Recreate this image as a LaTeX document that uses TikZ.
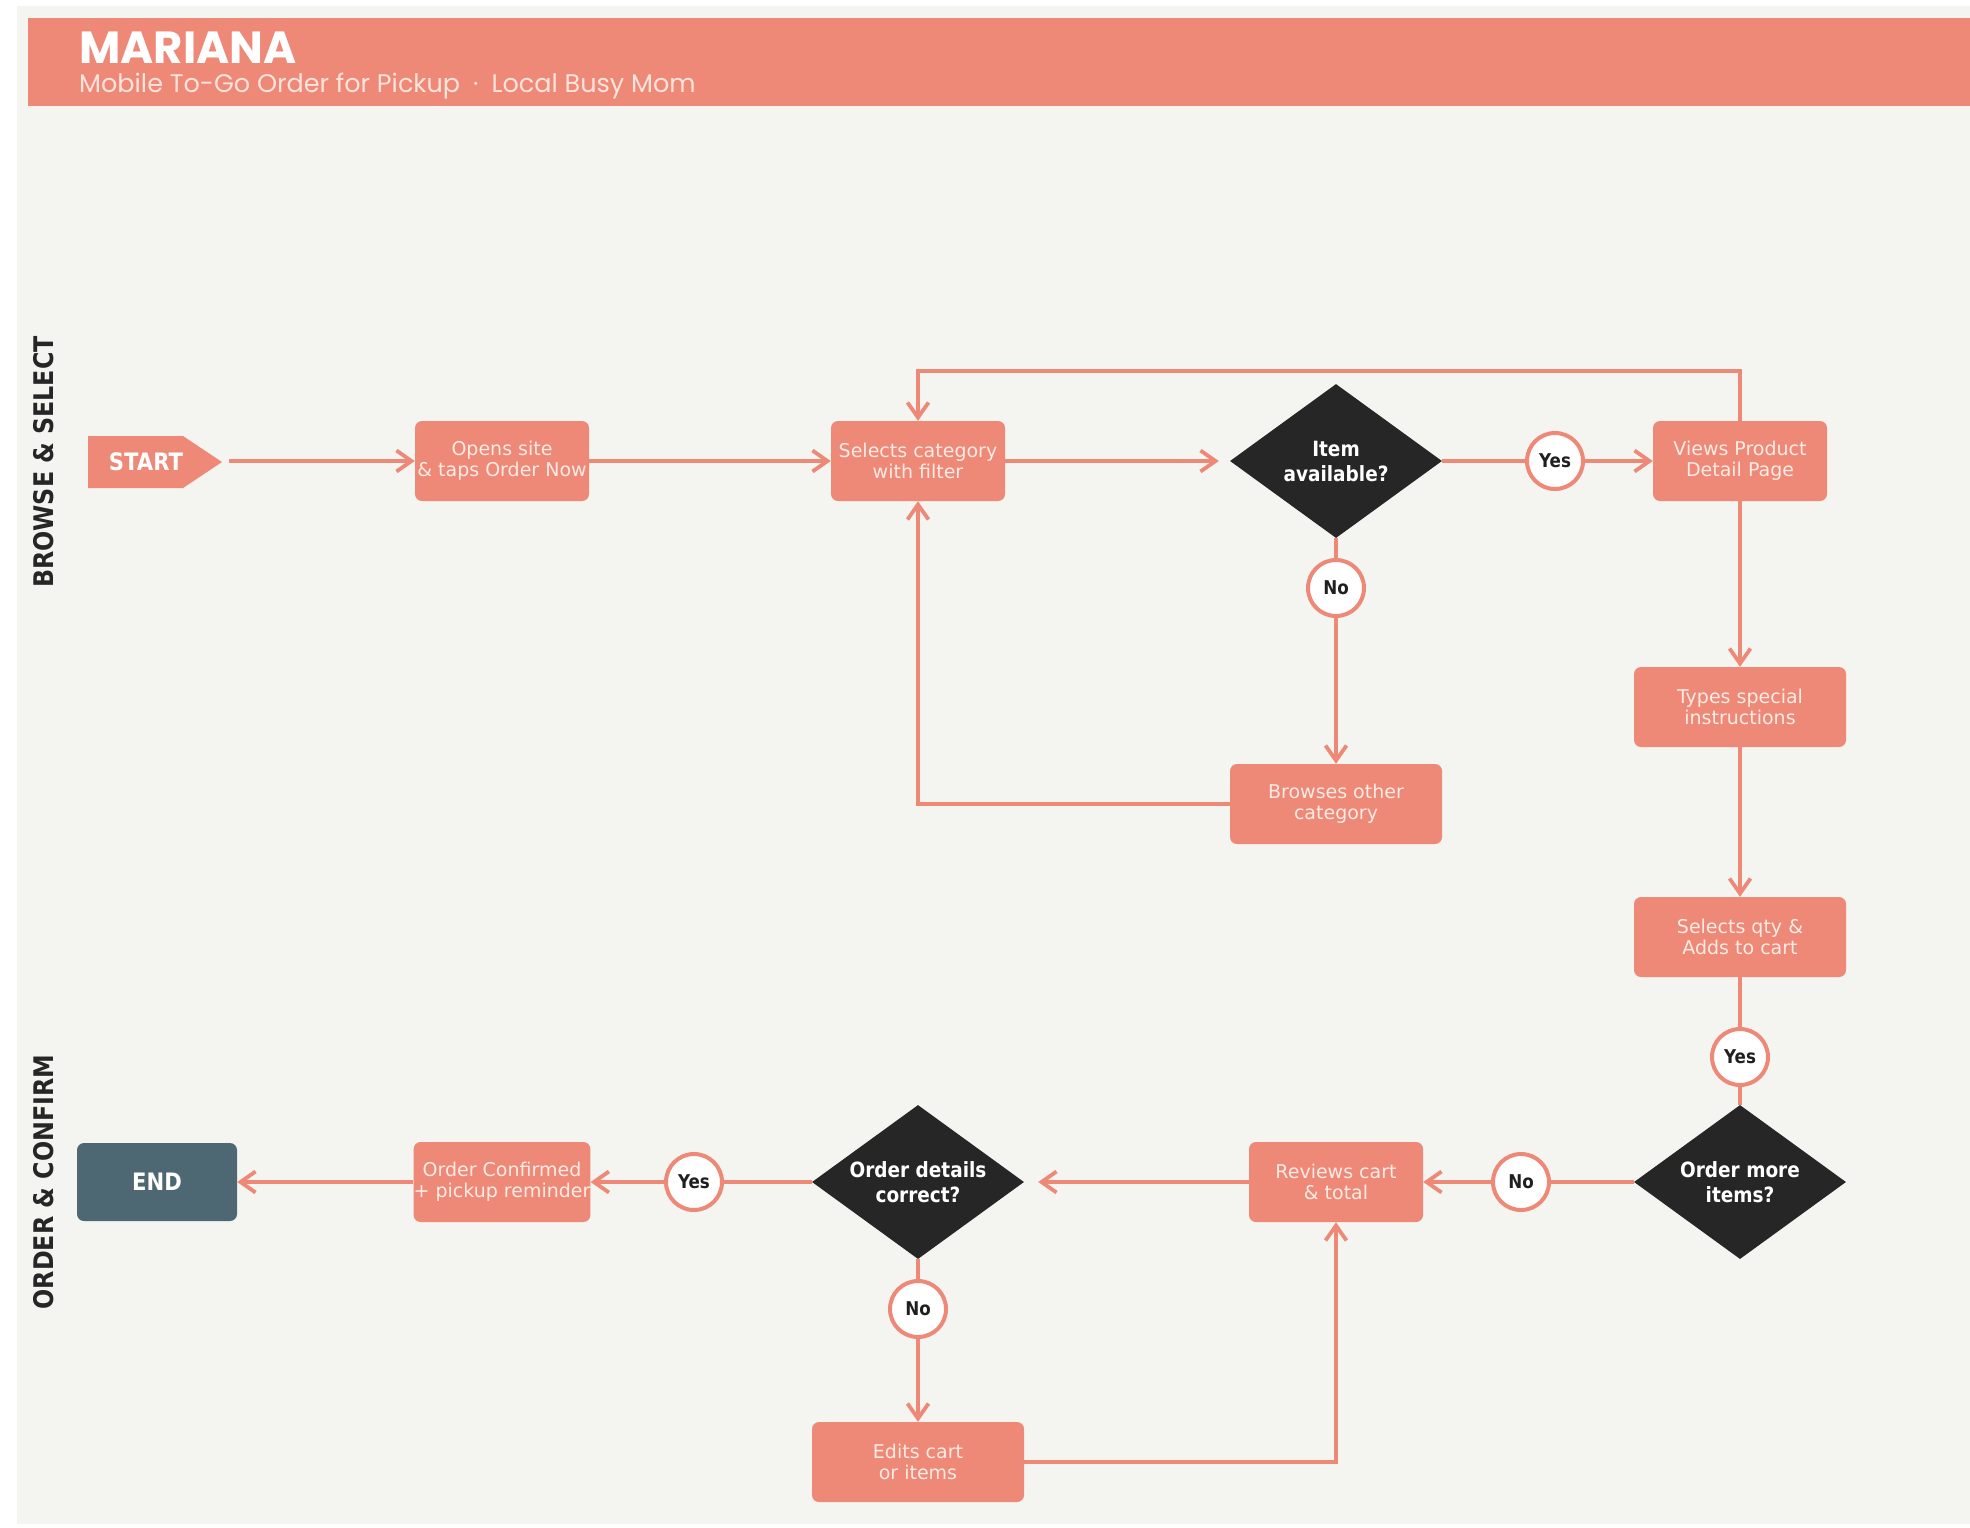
\documentclass[tikz,border=0pt]{standalone}
\usepackage{fontspec}
\usetikzlibrary{shapes.geometric,arrows.meta}
\newfontfamily\dv{DejaVu Sans}
\newfontfamily\dvc{DejaVu Sans Bold}[FakeStretch=0.88]
\newfontfamily\pop{Poppins}
\definecolor{sal}{HTML}{EE8877}
\definecolor{boxtxt}{HTML}{FDEBE5}
\definecolor{darkd}{HTML}{262626}
\definecolor{panelc}{HTML}{F4F4F0}
\definecolor{endc}{HTML}{4E6873}
\definecolor{subt}{HTML}{FCE4DC}
\begin{document}
\begin{tikzpicture}[x=1pt,y=-1pt,
  box/.style={rectangle, rounded corners=7pt, fill=sal, text=boxtxt, font=\dv\fontsize{19}{21}\selectfont, align=center, inner sep=0pt, minimum width=174pt, minimum height=80pt},
  wbox/.style={box, minimum width=212pt},
  dec/.style={diamond, aspect=1.38, fill=darkd, text=white, font=\dvc\fontsize{21}{25}\selectfont, align=center, inner sep=0pt, minimum width=212pt, minimum height=154pt},
  lab/.style={circle, draw=sal, line width=4pt, fill=white, text=black!88, font=\dvc\fontsize{19}{21}\selectfont, inner sep=0pt, minimum size=56pt},
  lane/.style={rotate=90, text=darkd, font=\dvc\fontsize{27}{30}\selectfont, inner sep=0pt},
  conn/.style={draw=sal, line width=3.8pt},
  arr/.style={conn, -{Straight Barb[length=15pt,width=21pt]}}
]
\useasboundingbox (0,0) rectangle (1970,1527);
\fill[white] (0,0) rectangle (1970,1527);
\fill[panelc] (17,6) rectangle (1970,1524);
\fill[sal] (28,18) rectangle (1970,106);
\node[anchor=base west, inner sep=0pt, text=white, font=\pop\bfseries\fontsize{45}{50}\selectfont] (title) at (79,63) {MARIANA};
\node[anchor=base west, inner sep=0pt, text=subt, font=\pop\fontsize{25.5}{28}\selectfont] (subtitle) at (79,92) {Mobile To-Go Order for Pickup\hspace{13pt}·\hspace{13pt}Local Busy Mom};

% lane labels
\node[lane] (lane1) at (44,462) {BROWSE \& SELECT};
\node[lane] (lane2) at (44,1182) {ORDER \& CONFIRM};

% start shape
\fill[sal] (88,436) -- (183,436) -- (222,462) -- (183,488) -- (88,488) -- cycle;
\node[text=white, font=\dvc\fontsize{24}{26}\selectfont, inner sep=0pt] (start) at (146,462) {START};
\coordinate (starttip) at (229,461);

% nodes
\node[box] (opens) at (502,461) {Opens site\\\& taps Order Now};
\node[box] (selcat) at (918,461) {Selects category\\with filter};
\node[dec] (itemav) at (1336,461) {Item\\available?};
\node[lab] (yes1) at (1555,461) {Yes};
\node[box] (views) at (1740,461) {Views Product\\Detail Page};
\coordinate (loop) at (1740,371);
\node[lab] (no1) at (1336,588) {No};
\node[wbox] (browse) at (1336,804) {Browses other\\category};
\node[wbox] (types) at (1740,707) {Types special\\instructions};
\node[wbox] (qty) at (1740,937) {Selects qty \&\\Adds to cart};
\node[lab] (yes2) at (1740,1057) {Yes};
\node[dec] (more) at (1740,1182) {Order more\\items?};
\node[lab] (no2) at (1521,1182) {No};
\node[box] (review) at (1336,1182) {Reviews cart\\\& total};
\node[dec] (details) at (918,1182) {Order details\\correct?};
\node[lab] (yes3) at (694,1182) {Yes};
\node[box] (confirm) at (502,1182) {Order Confirmed\\+ pickup reminder};
\node[rectangle, rounded corners=7pt, fill=endc, text=white, font=\dvc\fontsize{24}{26}\selectfont, minimum width=160pt, minimum height=78pt, inner sep=0pt] (end) at (157,1182) {END};
\node[lab] (no3) at (918,1309) {No};
\node[wbox] (edits) at (918,1462) {Edits cart\\or items};

% connectors
\draw[arr] (starttip) -- (opens.west);
\draw[arr] (opens.east) -- (selcat.west);
\draw[arr, shorten >=11pt] (selcat.east) -- (itemav.west);
\draw[conn] (itemav.east) -- (yes1.west);
\draw[arr] (yes1.east) -- (views.west);
\draw[arr] (views.north) -- (loop) -| (selcat.north);
\draw[conn] (itemav.south) -- (no1.north);
\draw[arr] (no1.south) -- (browse.north);
\draw[arr] (browse.west) -| (selcat.south);
\draw[arr] (views.south) -- (types.north);
\draw[arr] (types.south) -- (qty.north);
\draw[conn] (qty.south) -- (yes2.north);
\draw[conn] (yes2.south) -- (more.north);
\draw[conn] (more.west) -- (no2.east);
\draw[arr] (no2.west) -- (review.east);
\draw[arr, shorten >=14pt] (review.west) -- (details.east);
\draw[conn] (details.west) -- (yes3.east);
\draw[arr] (yes3.west) -- (confirm.east);
\draw[arr] (confirm.west) -- (end.east);
\draw[conn] (details.south) -- (no3.north);
\draw[arr] (no3.south) -- (edits.north);
\draw[arr] (edits.east) -| (review.south);
\end{tikzpicture}
\end{document}
